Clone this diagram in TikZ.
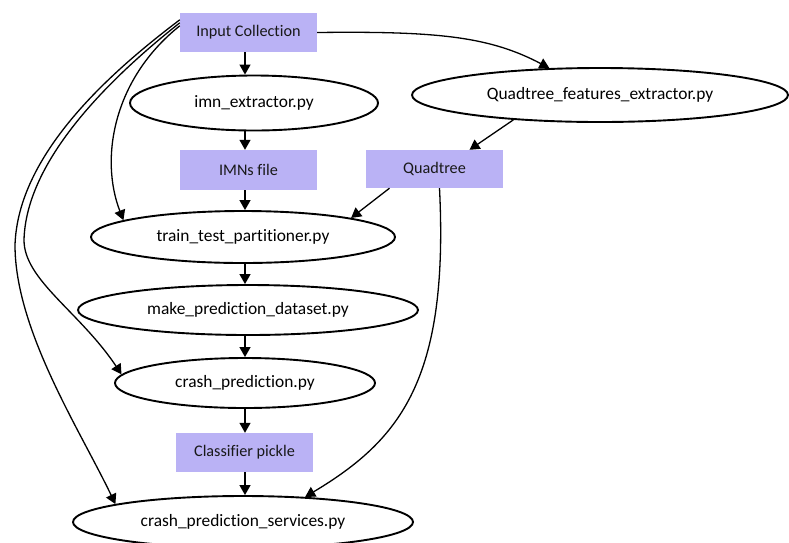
\documentclass[tikz,border=0pt]{standalone}
\usepackage{fontspec}
\setmainfont{Carlito}[Ligatures=NoCommon]
\usetikzlibrary{arrows.meta,shapes.geometric,calc}
\definecolor{boxfill}{RGB}{186,178,245}
\begin{document}
\begin{tikzpicture}[x=1pt,y=-1pt,
  box/.style={rectangle, fill=boxfill, minimum width=137pt, minimum height=39pt, inner sep=0pt, text=black!90, font=\fontsize{16.2}{19}\selectfont},
  oval/.style={ellipse, draw, line width=1.9pt, inner sep=0pt, font=\fontsize{17.4}{20}\selectfont},
  arr/.style={-{Triangle[length=10pt,width=11pt]}, line width=1.3pt}]
\useasboundingbox (0,0) rectangle (789,542);
\coordinate (axis) at (245,0);
\node[box] (inp) at (248.5,32.5) {Input Collection};
\node[oval, minimum width=248pt, minimum height=55pt] (imn) at (254,103) {imn\_extractor.py};
\node[oval, minimum width=376pt, minimum height=54pt] (qfe) at (600,95) {Quadtree\_features\_extractor.py};
\node[box, minimum height=40pt] (imns) at (248.5,170) {IMNs file};
\node[box, minimum height=38pt] (qt) at (434.5,169) {Quadtree};
\node[oval, minimum width=304pt, minimum height=52pt] (tt) at (243,237) {train\_test\_partitioner.py};
\node[oval, minimum width=340pt, minimum height=50pt] (mp) at (248,310) {make\_prediction\_dataset.py};
\node[oval, minimum width=260pt, minimum height=50pt] (cp) at (245,383) {crash\_prediction.py};
\node[box] (cl) at (244.5,452.5) {Classifier pickle};
\node[oval, minimum width=340pt, minimum height=52pt] (cs) at (243,522) {crash\_prediction\_services.py};

\draw[arr] (inp.south -| axis) -- (imn.north -| axis);
\draw[arr] (imn.south -| axis) -- (imns.north -| axis);
\draw[arr] (imns.south -| axis) -- (tt.north -| axis);
\draw[arr] (tt.south -| axis) -- (mp.north -| axis);
\draw[arr] (mp.south -| axis) -- (cp.north -| axis);
\draw[arr] (cp.south -| axis) -- (cl.north -| axis);
\draw[arr] (cl.south -| axis) -- (cs.north -| axis);

\draw[arr] (inp.east) .. controls (440,31) and (490,37) .. (qfe.152);
\draw[arr] (qfe.196) -- ([xshift=35pt]qt.north);
\draw[arr] ([xshift=-45pt]qt.south) -- (tt.10);
\draw[arr] ([xshift=5pt]qt.south) .. controls (449,380) and (400,440) .. (cs.22);
\draw[arr] ([yshift=-13pt]inp.north west) .. controls (112,80) and (100,160) .. (tt.172);
\draw[arr] ([yshift=-10pt]inp.north west) .. controls (110,78) and (26,160) .. (24,240) .. controls (24,280) and (80,312) .. (cp.176);
\draw[arr] ([yshift=-7pt]inp.north west) .. controls (108,74) and (18,155) .. (15,245) .. controls (15,330) and (80,430) .. (cs.172);
\end{tikzpicture}
\end{document}
